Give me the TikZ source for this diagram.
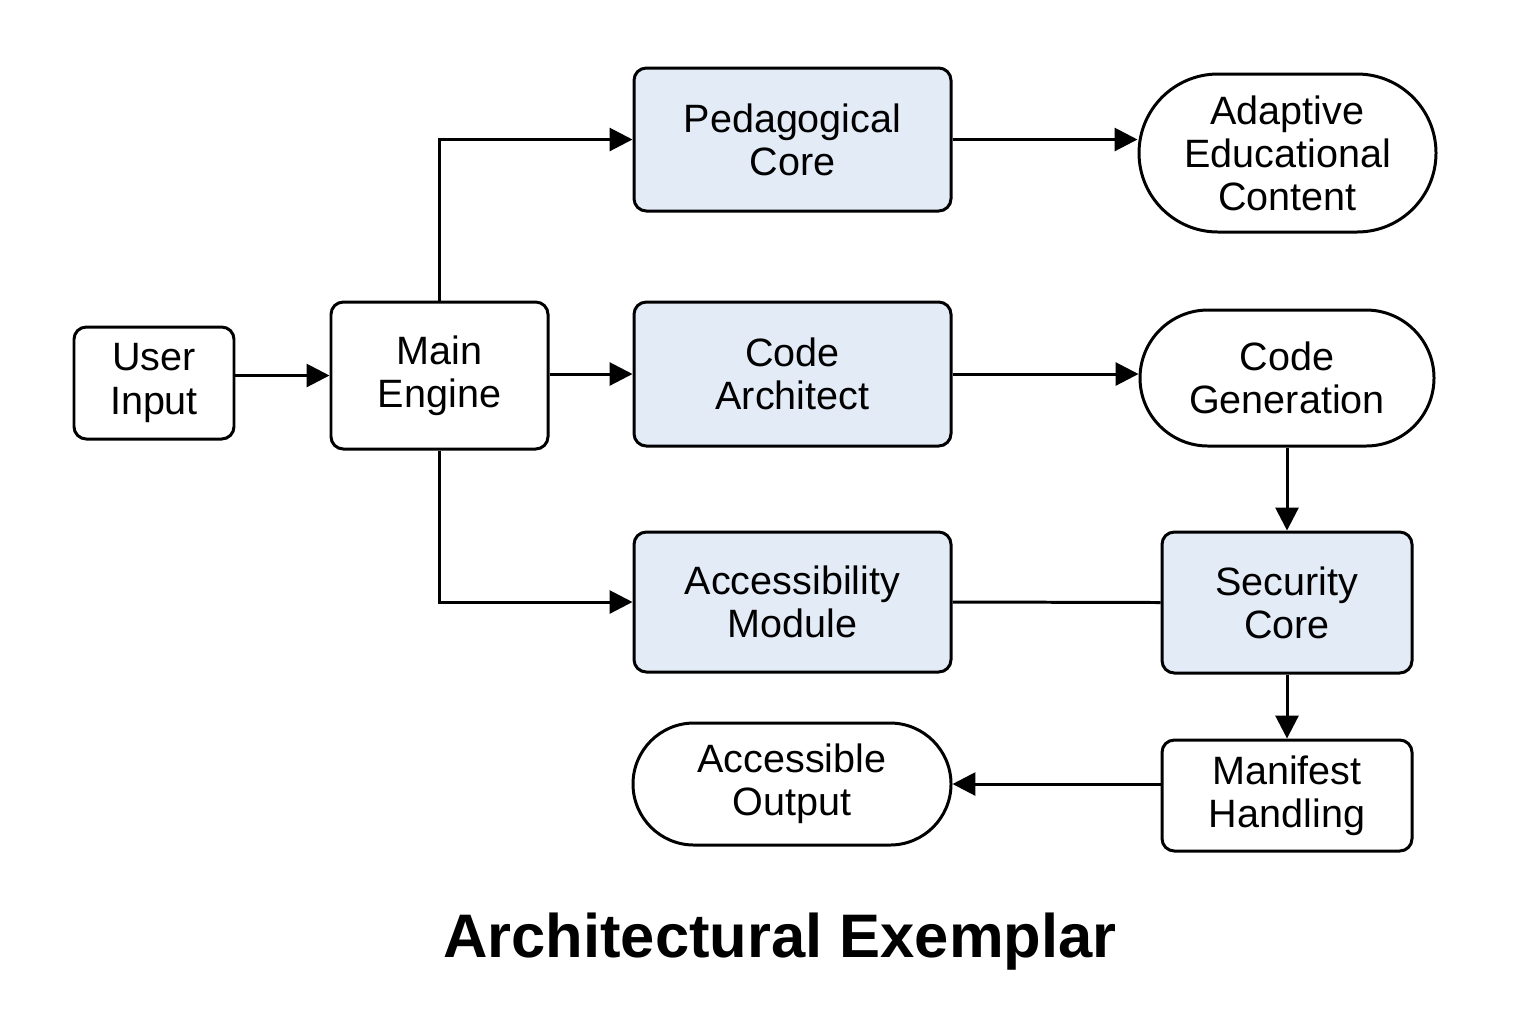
\documentclass[tikz,border=0pt]{standalone}
\usepackage{fontspec}
\setmainfont{Liberation Sans}
\usetikzlibrary{arrows.meta, positioning, shapes.misc}

\definecolor{corefill}{HTML}{E3EBF7}

\begin{document}
\begin{tikzpicture}[
    font=\fontsize{22.5}{24.5}\selectfont,
    >={Triangle[length=13pt, width=13pt]},
    box/.style={rectangle, rounded corners=7pt, draw=black, line width=1.7pt, align=center, inner sep=0pt},
    core/.style={box, fill=corefill},
    pill/.style={rounded rectangle, draw=black, line width=1.7pt, align=center, inner sep=0pt},
    arrow/.style={->, line width=1.7pt},
    link/.style={line width=1.7pt}
]
\useasboundingbox (0,0) rectangle (30.72,-20.48);

\node[box, minimum width=3.2cm, minimum height=2.24cm] (user) at (3.08,-7.66) {User\\Input};
\node[box, minimum width=4.34cm, minimum height=2.94cm] (engine) at (8.79,-7.51) {Main\\Engine};
\node[core, minimum width=6.34cm, minimum height=2.86cm] (ped) at (15.85,-2.79) {Pedagogical\\Core};
\node[core, minimum width=6.34cm, minimum height=2.88cm] (arch) at (15.85,-7.48) {Code\\Architect};
\node[core, minimum width=6.34cm, minimum height=2.8cm] (access) at (15.85,-12.04) {Accessibility\\Module};
\node[pill, minimum width=5.94cm, minimum height=3.16cm] (adaptive) at (25.75,-3.06) {Adaptive\\Educational\\Content};
\node[pill, minimum width=5.88cm, minimum height=2.72cm] (codegen) at (25.74,-7.56) {Code\\Generation};
\node[core, minimum width=5.0cm, minimum height=2.82cm] (security) at (25.74,-12.05) {Security\\Core};
\node[box, minimum width=5.0cm, minimum height=2.22cm] (manifest) at (25.74,-15.91) {Manifest\\Handling};
\node[pill, minimum width=6.36cm, minimum height=2.44cm] (output) at (15.84,-15.68) {Accessible\\Output};

\node[font=\fontsize{35}{40}\selectfont\bfseries] (title) at (15.6,-18.84) {Architectural Exemplar};

\draw[arrow] (user.east |- engine) -- (engine.west);
\draw[arrow] (engine.north) |- (ped.west);
\draw[arrow] (engine.east |- arch) -- (arch.west);
\draw[arrow] (engine.south) |- (access.west);
\draw[arrow] (ped.east) -- (ped.east -| adaptive.west);
\draw[arrow] (arch.east) -- (arch.east -| codegen.west);
\draw[arrow] (codegen.south) -- (security.north);
\draw[link] (access.east) -- (security.west);
\draw[arrow] (security.south) -- (manifest.north);
\draw[arrow] (manifest.west |- output) -- (output.east);
\end{tikzpicture}
\end{document}
